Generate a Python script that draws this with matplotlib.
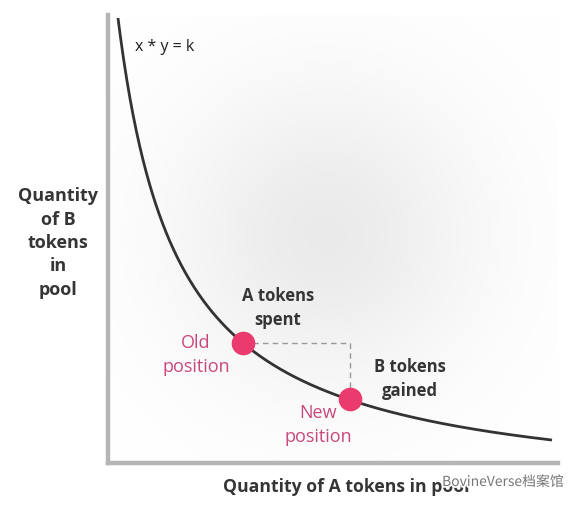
import numpy as np
import matplotlib
matplotlib.use("Agg")
import matplotlib.pyplot as plt
import matplotlib.patheffects as pe

# ---- data (axis units) ----
curve_x_start, curve_x_end = 10, 444
offset_a, offset_b = 49.6, 35.0
k = 28606
old_pos = (135, 120)
new_pos = (242, 64)
x_label = "Quantity of A tokens in pool"
y_label = "Quantity\nof B\ntokens\nin\npool"
eq_label = "x * y = k"

W, H = 582, 508
fig = plt.figure(figsize=(W / 100, H / 100), dpi=100)
ax = fig.add_axes([108 / W, (H - 463) / H, 450 / W, 448 / H])
ax.set_xlim(0, 450)
ax.set_ylim(0, 448)

# soft radial shading in the background
gx, gy = np.meshgrid(np.linspace(0, 450, 300), np.linspace(0, 448, 300))
r = np.hypot(gx - 218, gy - 228)
shade = np.exp(-(r / 150.0) ** 2)
rgba = np.zeros(gx.shape + (4,))
rgba[..., :3] = 0.78
rgba[..., 3] = shade * 0.36
ax.imshow(rgba, extent=(0, 450, 0, 448), origin="lower", aspect="auto", zorder=0, interpolation="bilinear")

# curve
xs = np.linspace(curve_x_start, curve_x_end, 400)
ys = k / (xs + offset_a) - offset_b
ax.plot(xs, ys, color="#333333", lw=2.0, zorder=2, clip_on=False, solid_capstyle="butt")

# dashed guides
ax.plot([old_pos[0], new_pos[0], new_pos[0]], [old_pos[1], old_pos[1], new_pos[1]],
        color="#999999", lw=1.0, ls=(0, (4, 3)), zorder=1)

# points
ax.plot([old_pos[0], new_pos[0]], [old_pos[1], new_pos[1]], "o", color="#ea3a6e",
        ms=17, mec="none", zorder=3)

for s in ["top", "right"]:
    ax.spines[s].set_visible(False)
for s in ["left", "bottom"]:
    ax.spines[s].set_color("#b5b5b5")
    ax.spines[s].set_linewidth(3.2)
ax.set_xticks([])
ax.set_yticks([])
ax.patch.set_alpha(0)

bold = dict(family="Open Sans", fontweight="bold", color="#353535")
pink = "#c9487c"

ax.text(27, 416, eq_label, family="Open Sans", fontsize=11.5, color="#1e1e1e", va="center", ha="left")
ax.text(170, 155, "A tokens\nspent", fontsize=12, ha="center", va="center", linespacing=1.4, **bold)
ax.text(302, 84, "B tokens\ngained", fontsize=12, ha="center", va="center", linespacing=1.4, **bold)
ax.text(88, 108, "Old\nposition", family="Open Sans", fontsize=13, color=pink, ha="center", va="center", linespacing=1.38)
ax.text(210, 38, "New\nposition", family="Open Sans", fontsize=13, color=pink, ha="center", va="center", linespacing=1.38)

fig.text(58 / W, 1 - 243 / H, y_label, fontsize=13, ha="center", va="center", linespacing=1.38, **bold)
fig.text(346 / W, 1 - 487 / H, x_label, fontsize=12.7, ha="center", va="center", **bold)

fig.text(503 / W, 1 - 482 / H, "BovineVerse档案馆", family=["Noto Sans CJK SC", "DejaVu Sans"],
         fontsize=10, color="#777777", ha="center", va="center",
         path_effects=[pe.withStroke(linewidth=2.5, foreground="white")])

fig.savefig("out.png", dpi=100)
